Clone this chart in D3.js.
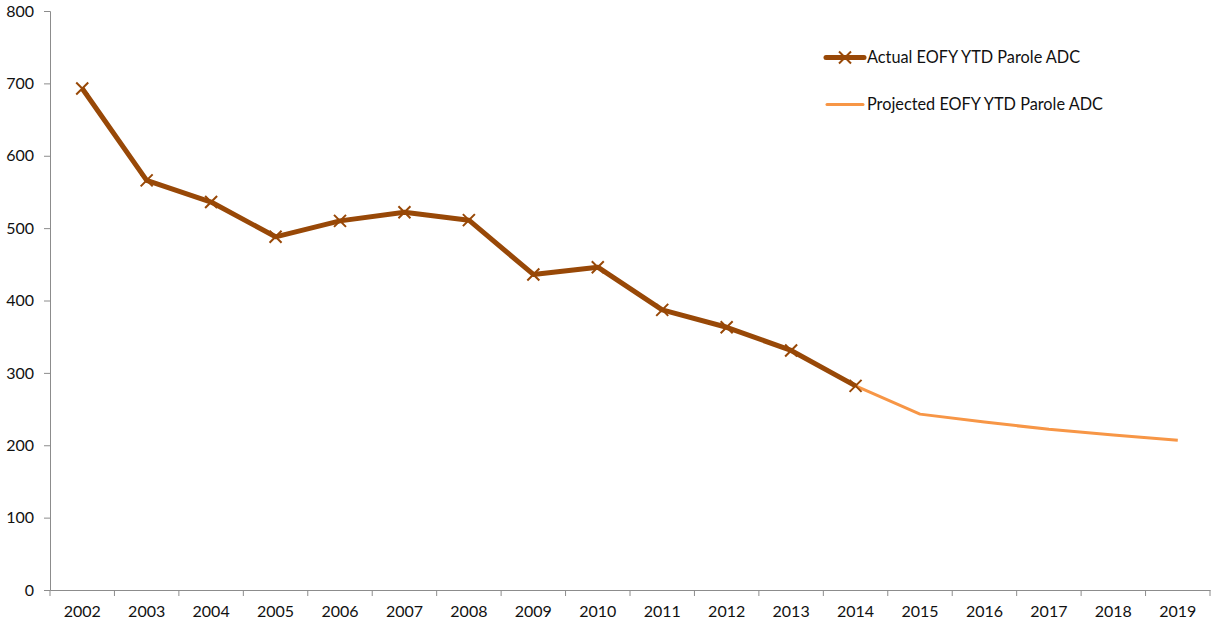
<!DOCTYPE html>
<html><head><meta charset="utf-8">
<script src="https://cdn.jsdelivr.net/npm/d3@7"></script>
<style>body{margin:0;background:#fff;} text{font-family:Lato,"Open Sans",sans-serif;fill:#111;}</style>
</head><body><svg id="c" width="1212" height="625"></svg>
<script>
const years = ["2002","2003","2004","2005","2006","2007","2008","2009","2010","2011","2012","2013","2014","2015","2016","2017","2018","2019"];
const actual = [693,566,536,488,510,522,511,436,446,387,363,331,282];
const projectedYears = ["2014","2015","2016","2017","2018","2019"];
const projected = [282,243,232,222,214,207];
const yTicks = [0,100,200,300,400,500,600,700,800];
const seriesNames = ["Actual EOFY YTD Parole ADC","Projected EOFY YTD Parole ADC"];

const svg = d3.select("#c");
const x = d3.scaleBand().domain(years).range([50,1210]);
const y = d3.scaleLinear().domain([0,800]).range([590,11]);
const cx = d => x(d)+x.bandwidth()/2;

// y axis
const ya = svg.append("g").attr("transform","translate(50,0)").call(d3.axisLeft(y).tickValues(yTicks).tickSize(6).tickPadding(10));
ya.select(".domain").attr("stroke","#8c8c8c");
ya.selectAll(".tick line").attr("stroke","#8c8c8c");
ya.selectAll("text").style("font-size","16px").attr("fill","#111");

// x axis
const xa = svg.append("g").attr("transform","translate(0,590)").call(d3.axisBottom(x).tickSize(0).tickPadding(16));
xa.select(".domain").attr("stroke","#8c8c8c");
xa.selectAll("text").style("font-size","16px").attr("fill","#111");
// category boundary ticks
const bounds = years.map(d=>x(d)).concat([x.range()[1]]);
svg.append("g").selectAll("line").data(bounds).join("line")
  .attr("x1",d=>d).attr("x2",d=>d).attr("y1",590).attr("y2",596).attr("stroke","#8c8c8c");

// projected line
svg.append("path").datum(projected.map((v,i)=>[cx(projectedYears[i]),y(v)]))
  .attr("d",d3.line()).attr("fill","none").attr("stroke","#F79646").attr("stroke-width",3).attr("stroke-linejoin","round");

// actual line
const aPts = actual.map((v,i)=>[cx(years[i]),y(v)]);
svg.append("path").datum(aPts).attr("d",d3.line()).attr("fill","none")
  .attr("stroke","#984807").attr("stroke-width",5).attr("stroke-linejoin","round");

const xMark = (g,px,py,s)=>{
  g.append("path").attr("d",`M${px-s},${py-s}L${px+s},${py+s}M${px-s},${py+s}L${px+s},${py-s}`)
   .attr("stroke","#984807").attr("stroke-width",2).attr("fill","none");
};
const mg = svg.append("g");
aPts.forEach(p=>xMark(mg,p[0],p[1],6));

// legend
const lg = svg.append("g");
lg.append("line").attr("x1",826).attr("x2",864).attr("y1",57.5).attr("y2",57.5).attr("stroke","#984807").attr("stroke-width",5).attr("stroke-linecap","round");
xMark(lg,845,57.5,6);
lg.append("text").attr("x",867).attr("y",63).style("font-size","16.3px").text(seriesNames[0]);
lg.append("line").attr("x1",827).attr("x2",863).attr("y1",104.5).attr("y2",104.5).attr("stroke","#F79646").attr("stroke-width",3).attr("stroke-linecap","round");
lg.append("text").attr("x",867).attr("y",110).style("font-size","16.3px").text(seriesNames[1]);
</script></body></html>
